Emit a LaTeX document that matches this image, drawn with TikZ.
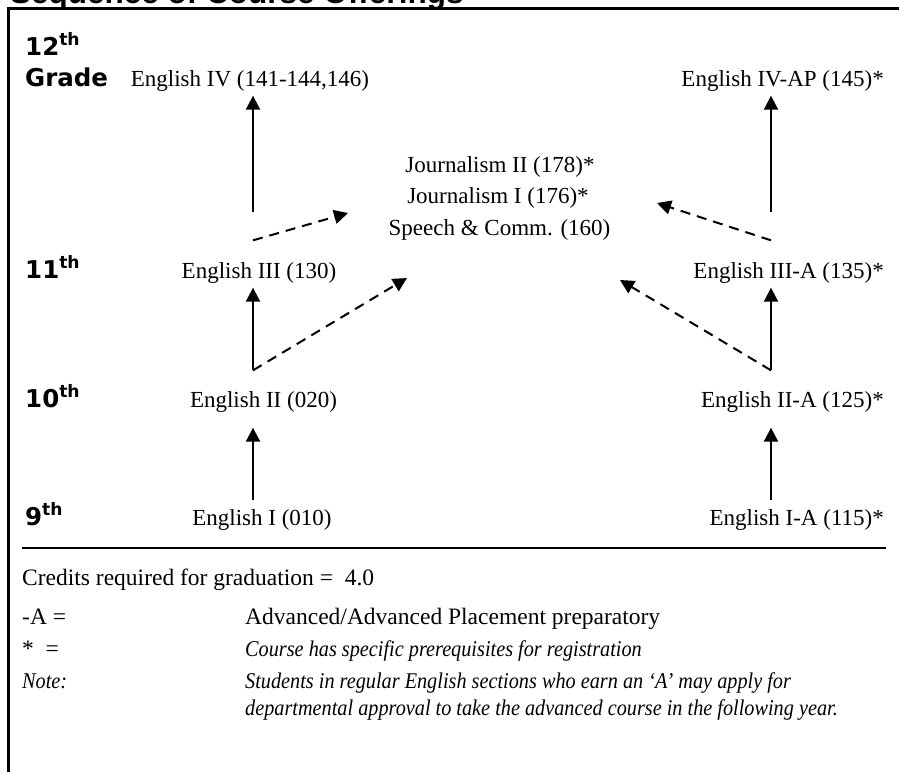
\documentclass[tikz,border=0pt]{standalone}
\usepackage{fontspec}
\setmainfont{Liberation Serif}
\newfontfamily\gradefont{DejaVu Sans}
\newfontfamily\titlefont{Liberation Sans}
\newfontfamily\keyitfont[FakeStretch=0.9]{Liberation Serif Italic}
\usetikzlibrary{arrows.meta,calc}

\tikzset{
  course/.style={anchor=base, inner sep=0pt, font=\fontsize{23}{27}\selectfont},
  courseR/.style={course, anchor=base east},
  grade/.style={anchor=base west, inner sep=0pt, font=\gradefont\bfseries\fontsize{24.5}{28}\selectfont},
  legend/.style={anchor=base west, inner sep=0pt, font=\fontsize{23.5}{27}\selectfont},
  legendit/.style={anchor=base west, inner sep=0pt, font=\keyitfont\fontsize{22.5}{26}\selectfont},
  uparrow/.style={line width=2pt, -{Triangle[length=14pt,width=14pt]}},
  dasharrow/.style={uparrow, dash pattern=on 10pt off 7pt},
}

\begin{document}
\begin{tikzpicture}[x=1pt,y=-1pt]
\useasboundingbox (0,0) rectangle (899,772);
\clip (0,0) rectangle (899,772);

% heading, running off the top edge
\node[anchor=base west, inner sep=0pt, font=\titlefont\bfseries\fontsize{31.5}{34}\selectfont] (title) at (10,3) {Sequence of Course Offerings};

% frame
\draw[line width=3pt, line join=miter] (8,772) -- (8,8) -- (899,8);

% columns for the vertical arrows
\coordinate (colL) at (253,0);
\coordinate (colR) at (771,0);

% grade labels
\node[grade] (g12) at (25,55) {12\textsuperscript{th}};
\node[grade] (g12b) at (25,86) {Grade};
\node[grade] (g11) at (25,278) {11\textsuperscript{th}};
\node[grade] (g10) at (25,407) {10\textsuperscript{th}};
\node[grade] (g9) at (25,525) {9\textsuperscript{th}};

% courses
\node[course] (e4) at (250,86) {English IV (141-144,146)};
\node[courseR] (e4ap) at (884,86) {English IV-AP (145)*};
\node[course] (j2) at (500,172) {Journalism II (178)*};
\node[course] (j1) at (498,203) {Journalism I (176)*};
\node[course] (sc) at (499.5,235) {Speech \& Comm. (160)};
\node[course] (e3) at (259,278) {English III (130)};
\node[courseR] (e3a) at (884,278) {English III-A (135)*};
\node[course] (e2) at (263.5,407) {English II (020)};
\node[courseR] (e2a) at (884,407) {English II-A (125)*};
\node[course] (e1) at (262,525) {English I (010)};
\node[courseR] (e1a) at (884,525) {English I-A (115)*};

% where the elective arrows point
\coordinate (m1) at (348,213);
\coordinate (m2) at (407,278);
\coordinate (m3) at (657,203);
\coordinate (m4) at (620,280);

% regular track
\draw[uparrow, shorten <=8.5pt, shorten >=15.5pt] (e1.north -| colL) -- (e2.south -| colL);
\draw[uparrow, shorten <=20.5pt, shorten >=4.5pt] (e2.north -| colL) -- (e3.south -| colL);
\draw[uparrow, shorten <=49.5pt, shorten >=4.5pt] (e3.north -| colL) -- (e4.south -| colL);

% advanced track
\draw[uparrow, shorten <=8.5pt, shorten >=15.5pt] (e1a.north -| colR) -- (e2a.south -| colR);
\draw[uparrow, shorten <=20.5pt, shorten >=4.5pt] (e2a.north -| colR) -- (e3a.south -| colR);
\draw[uparrow, shorten <=49.5pt, shorten >=4.5pt] (e3a.north -| colR) -- (e4ap.south -| colR);

% electives
\draw[dasharrow] ($(e3.north -| colL)+(0,-21.5)$) -- (m1);
\draw[dasharrow] ($(e2.north -| colL)+(0,-20.5)$) -- (m2);
\draw[dasharrow] ($(e3a.north -| colR)+(0,-21.5)$) -- (m3);
\draw[dasharrow] ($(e2a.north -| colR)+(0,-20.5)$) -- (m4);

% separator
\draw[line width=1.2pt] (22,548) -- (886,548);

% key
\node[legend] (credits) at (22,585) {Credits required for graduation =\ \ 4.0};
\node[legend] (keyA) at (22,624) {-A =};
\node[legend] (defA) at (245,624) {Advanced/Advanced Placement preparatory};
\node[legend] (keyS) at (22,656) {*\ \ =};
\node[legendit] (defS) at (245,656) {Course has specific prerequisites for registration};
\node[legendit] (keyN) at (22,688) {Note:};
\node[legendit] (defN1) at (245,688) {Students in regular English sections who earn an ‘A’ may apply for};
\node[legendit] (defN2) at (245,715) {departmental approval to take the advanced course in the following year.};
\end{tikzpicture}
\end{document}
